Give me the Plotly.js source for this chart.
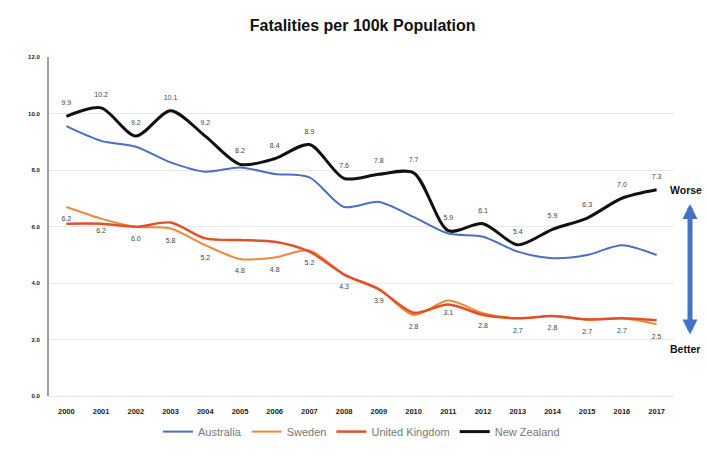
<!DOCTYPE html>
<html>
<head>
<meta charset="utf-8">
<script src="https://cdn.plot.ly/plotly-3.0.1.min.js"></script>
<style>html,body{margin:0;padding:0;background:#fff;}#chart{width:707px;height:458px;}</style>
</head>
<body>
<div id="chart"></div>
<script>
var years = ['2000','2001','2002','2003','2004','2005','2006','2007','2008','2009','2010','2011','2012','2013','2014','2015','2016','2017'];
var australia = [9.55, 9.03, 8.82, 8.27, 7.94, 8.09, 7.86, 7.74, 6.69, 6.87, 6.34, 5.75, 5.64, 5.11, 4.88, 4.99, 5.34, 4.99];
var sweden = [6.69, 6.28, 5.99, 5.93, 5.34, 4.85, 4.90, 5.15, 4.30, 3.80, 2.87, 3.38, 2.93, 2.75, 2.83, 2.71, 2.75, 2.54];
var uk = [6.10, 6.10, 5.99, 6.14, 5.58, 5.52, 5.46, 5.11, 4.30, 3.77, 2.95, 3.24, 2.87, 2.75, 2.83, 2.71, 2.75, 2.68];
var nz = [9.9, 10.2, 9.2, 10.1, 9.2, 8.2, 8.4, 8.9, 7.7, 7.85, 7.9, 5.85, 6.1, 5.35, 5.9, 6.3, 7.0, 7.3];
var nzLabels = ['9.9','10.2','9.2','10.1','9.2','8.2','8.4','8.9','7.6','7.8','7.7','5.9','6.1','5.4','5.9','6.3','7.0','7.3'];
var lowLabels = ['6.2','6.2','6.0','5.8','5.2','4.8','4.8','5.2','4.3','3.9','2.8','3.1','2.8','2.7','2.8','2.7','2.7','2.5'];
var yTicks = [0, 2, 4, 6, 8, 10, 12];

var lblFont = {family: 'Liberation Sans, Arial, sans-serif', size: 7, color: '#444'};
var traces = [
  {x: years, y: australia, name: 'Australia', mode: 'lines', type: 'scatter',
   line: {color: '#4a6fc4', width: 2, shape: 'spline', smoothing: 0.8}},
  {x: years, y: sweden, name: 'Sweden', mode: 'lines+text', type: 'scatter',
   text: lowLabels.map(function (t) { return ' <br>' + t; }), textposition: 'bottom center', textfont: lblFont,
   line: {color: '#f0883a', width: 2, shape: 'spline', smoothing: 0.8}},
  {x: years, y: uk, name: 'United Kingdom', mode: 'lines', type: 'scatter',
   line: {color: '#e2502a', width: 2.5, shape: 'spline', smoothing: 0.8}},
  {x: years, y: nz, name: 'New Zealand', mode: 'lines+text', type: 'scatter',
   text: nzLabels.map(function (t) { return t + '<br> '; }), textposition: 'top center', textfont: lblFont,
   line: {color: '#111111', width: 3, shape: 'spline', smoothing: 0.8}}
];

var layout = {
  width: 707, height: 458,
  margin: {l: 49, r: 33, t: 57, b: 59},
  paper_bgcolor: '#fff', plot_bgcolor: '#fff',
  title: {text: '<b>Fatalities per 100k Population</b>', x: 0.513, xanchor: 'center', y: 0.945, yanchor: 'middle',
          font: {family: 'Liberation Sans, Arial, sans-serif', size: 16, color: '#111'}},
  showlegend: true,
  legend: {orientation: 'h', x: 0.5, xanchor: 'center', y: -0.105, yanchor: 'middle',
           font: {family: 'Liberation Sans, Arial, sans-serif', size: 11, color: '#777'},
           itemwidth: 30, tracegroupgap: 0},
  xaxis: {type: 'category', range: [-0.5, 17.5], showgrid: false, zeroline: false,
          showline: true, linecolor: '#e4e4e4', linewidth: 1, ticks: '',
          tickfont: {family: 'Liberation Sans, Arial, sans-serif', size: 7.5, color: '#222', weight: 'bold'},
          ticklabelstandoff: 8},
  yaxis: {range: [0, 12], tickvals: yTicks, tickformat: '.1f', showgrid: true, gridcolor: '#e8e8e8', gridwidth: 1,
          zeroline: false, showline: true, linecolor: '#a0a0a0', linewidth: 2, ticks: '',
          tickfont: {family: 'Liberation Sans, Arial, sans-serif', size: 6, color: '#222', weight: 'bold'},
          ticklabelstandoff: 6},
  annotations: [
    {xref: 'paper', yref: 'y', x: 1.0256, y: 6.8, ax: 0, ay: 132, axref: 'pixel', ayref: 'pixel',
     text: '', showarrow: true, arrowside: 'end+start', arrowhead: 2, arrowsize: 0.6, arrowwidth: 5,
     arrowcolor: '#4472c4', standoff: 0, startstandoff: 0},
    {xref: 'paper', yref: 'paper', x: 0.99, y: 0.607, xanchor: 'left', yanchor: 'middle', showarrow: false,
     text: '<b>Worse</b>', font: {family: 'Liberation Sans, Arial, sans-serif', size: 10.5, color: '#111'}},
    {xref: 'paper', yref: 'paper', x: 0.99, y: 0.138, xanchor: 'left', yanchor: 'middle', showarrow: false,
     text: '<b>Better</b>', font: {family: 'Liberation Sans, Arial, sans-serif', size: 10.5, color: '#111'}}
  ]
};

Plotly.newPlot('chart', traces, layout, {displayModeBar: false, staticPlot: true});
</script>
</body>
</html>
